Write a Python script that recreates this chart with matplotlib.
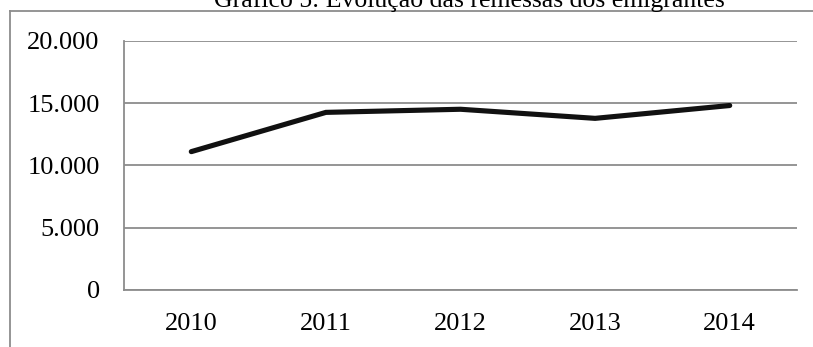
import matplotlib
matplotlib.use('Agg')
import matplotlib.pyplot as plt
from matplotlib.lines import Line2D
from matplotlib.ticker import FuncFormatter
import numpy as np

plt.rcParams['font.family'] = ['Liberation Serif', 'DejaVu Serif']

anos = ['2010', '2011', '2012', '2013', '2014']
remessas = [11100, 14250, 14500, 13770, 14800]
y_ticks = [0, 5000, 10000, 15000, 20000]

W, H = 813, 347
fig = plt.figure(figsize=(W / 100, H / 100), dpi=100)
ax = fig.add_axes([124 / W, 57 / H, (797 - 124) / W, (290 - 40.7) / H])

grey = '#8c8c8c'
x = np.arange(len(anos))
ax.plot(x, remessas, color='#111111', lw=3.7, solid_capstyle='round',
        solid_joinstyle='miter', zorder=3)

ax.set_xlim(-0.5, len(anos) - 0.5)
ax.set_ylim(0, 20000)
ax.set_yticks(y_ticks)
ax.yaxis.set_major_formatter(FuncFormatter(lambda v, p: f'{int(v):,}'.replace(',', '.')))
ax.set_xticks(x)
ax.set_xticklabels(anos)
ax.grid(axis='y', color=grey, lw=1.3)
ax.set_axisbelow(True)

for side in ['top', 'right']:
    ax.spines[side].set_visible(False)
for side in ['left', 'bottom']:
    ax.spines[side].set_color(grey)
    ax.spines[side].set_linewidth(1.3)

ax.tick_params(axis='both', length=0, labelsize=19, colors='black')
ax.tick_params(axis='y', pad=17.5)
ax.tick_params(axis='x', pad=16.5)

# outer frame of the chart area
fig.add_artist(Line2D([10 / W, 10 / W], [0, 1 - 11 / H], color=grey, lw=1.3))
fig.add_artist(Line2D([10 / W, 1], [1 - 11 / H, 1 - 11 / H], color=grey, lw=1.3))

fig.text(469 / W, 1 - 7 / H, 'Gráfico 5: Evolução das remessas dos emigrantes',
         ha='center', va='baseline', fontsize=18.5)

fig.savefig('out.png', dpi=100)
